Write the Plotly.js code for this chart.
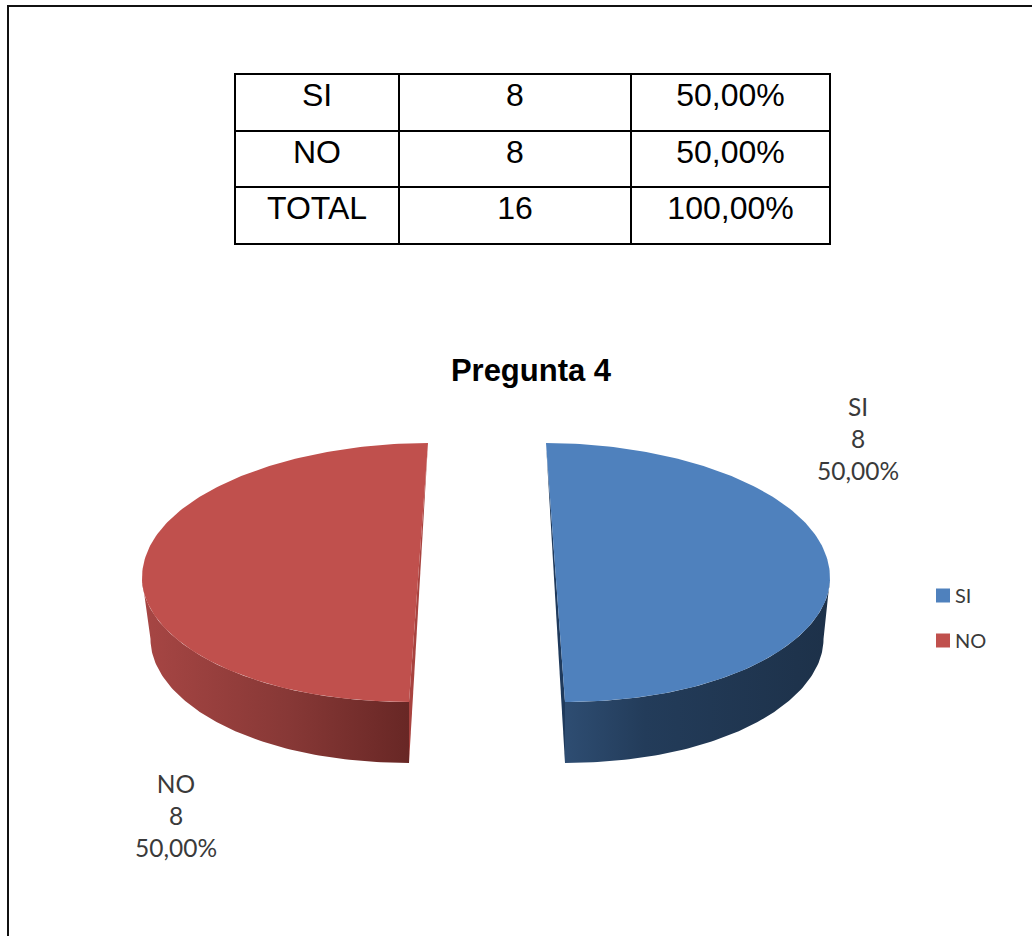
<!DOCTYPE html>
<html>
<head>
<meta charset="utf-8">
<script src="https://cdn.plot.ly/plotly-3.0.1.min.js"></script>
<style>html,body{margin:0;padding:0;background:#fff;overflow:hidden}#chart{width:1032px;height:936px}</style>
</head>
<body>
<div id="chart"></div>
<script>
// ---- data ----
var categories = ['SI', 'NO'];
var counts = [8, 8];
var percents = ['50,00%', '50,00%'];
var totalLabel = 'TOTAL';
var totalCount = 16;
var totalPercent = '100,00%';
var chartTitle = 'Pregunta 4';

// ---- styling ----
var faceColors = ['#4f81bd', '#c0504d'];
var cutColors = ['#1f3a5c', '#a8433f'];
var wallGradients = [
  [[0, '#2e4d72'], [0.3, '#233c5a'], [1, '#1d3149']],
  [[0, '#a74644'], [0.55, '#873836'], [1, '#682725']]
];
var labelAnchors = [[857.5, 438.5], [176, 815]];
var centers = [[555.5, 578], [418.5, 578]];
var skews = [-9.5, 9.5];
var radii = [274.5, 276.5];

function point(c, a, s, d, th) {
  var co = Math.cos(th);
  return [c[0] + a * Math.sin(th) + s * co * co * co,
          c[1] + d - (co > 0 ? 135 : 124) * co];
}
var DEPTH = 61, A2 = 268;
var total = counts.reduce(function (u, v) { return u + v; }, 0);
var traces = [];
var cum = 0;
categories.forEach(function (name, i) {
  // SI runs clockwise from the top, NO continues round to the top again
  var t0 = 2 * Math.PI * cum / total;
  var t1 = 2 * Math.PI * (cum + counts[i]) / total;
  cum += counts[i];
  var c = centers[i], s = skews[i], A = radii[i], N = 90, k, th;
  var bottomTh = Math.PI;
  var sideTh = i === 0 ? Math.PI / 2 : 3 * Math.PI / 2;
  var wx = [], wy = [], fx = [], fy = [], q;
  // outer wall, top arc then bottom arc back
  for (k = 0; k <= N; k++) {
    th = sideTh + (bottomTh - sideTh) * k / N;
    q = point(c, A, s, 0, th); wx.push(q[0]); wy.push(q[1]);
  }
  for (k = N; k >= 0; k--) {
    th = sideTh + (bottomTh - sideTh) * k / N;
    q = point(c, A2, s, DEPTH, th); wx.push(q[0]); wy.push(q[1]);
  }
  traces.push({
    type: 'scatter', mode: 'lines', x: wx, y: wy, fill: 'toself', line: {width: 0},
    fillgradient: {type: 'horizontal', colorscale: wallGradients[i]},
    showlegend: false, hoverinfo: 'skip'
  });
  // cut wall
  var pTop = point(c, A, s, 0, 0);
  var pBot = point(c, A, s, 0, Math.PI);
  var pLow = point(c, A2, s, DEPTH, Math.PI);
  traces.push({
    type: 'scatter', mode: 'lines', x: [pTop[0], pBot[0], pLow[0], pTop[0]],
    y: [pTop[1], pBot[1], pLow[1], pTop[1]], fill: 'toself', fillcolor: cutColors[i],
    line: {width: 0}, showlegend: false, hoverinfo: 'skip'
  });
  // top face
  for (k = 0; k <= N * 2; k++) {
    th = t0 + (t1 - t0) * k / (N * 2);
    q = point(c, A, s, 0, th); fx.push(q[0]); fy.push(q[1]);
  }
  fx.push(fx[0]); fy.push(fy[0]);
  traces.push({
    type: 'scatter', mode: 'lines', x: fx, y: fy, fill: 'toself', fillcolor: faceColors[i],
    line: {width: 0}, showlegend: false, name: name, hoverinfo: 'skip'
  });
});
// legend entries
categories.forEach(function (name, i) {
  traces.push({
    type: 'scatter', mode: 'markers', x: [null], y: [null], name: name, legendgroup: name,
    marker: {symbol: 'square', size: 14, color: faceColors[i]}, hoverinfo: 'skip'
  });
});
// data table
traces.push({
  type: 'table',
  domain: {x: [235 / 1032, 830 / 1032], y: [0.5, 1 - 74 / 936]},
  columnwidth: [164, 232, 199],
  header: {
    values: [categories[0], String(counts[0]), percents[0]],
    height: 56.67, align: 'center', fill: {color: '#fff'},
    line: {color: '#000', width: 2},
    font: {family: 'Liberation Sans, Arial, sans-serif', size: 32, color: '#000'}
  },
  cells: {
    values: [[categories[1], totalLabel], [String(counts[1]), String(totalCount)], [percents[1], totalPercent]],
    height: 56.67, align: 'center', fill: {color: '#fff'},
    line: {color: '#000', width: 2},
    font: {family: 'Liberation Sans, Arial, sans-serif', size: 32, color: '#000'}
  }
});

var annotations = categories.map(function (name, i) {
  return {
    x: labelAnchors[i][0], y: labelAnchors[i][1], xref: 'x', yref: 'y', showarrow: false,
    text: name + '<br>' + counts[i] + '<br>' + percents[i], align: 'center',
    xanchor: 'center', yanchor: 'middle',
    font: {family: 'Lato, sans-serif', size: 24.5, color: '#3a3a3a'}
  };
});

var layout = {
  width: 1032, height: 936,
  margin: {l: 0, r: 0, t: 0, b: 0},
  paper_bgcolor: '#fff', plot_bgcolor: '#fff',
  title: {
    text: chartTitle, x: 531 / 1032, xanchor: 'center', y: 1 - 370 / 936, yanchor: 'middle',
    font: {family: 'Liberation Sans, Arial, sans-serif', size: 31, color: '#000', weight: 'bold'}
  },
  xaxis: {range: [0, 1032], visible: false, fixedrange: true},
  yaxis: {range: [936, 0], visible: false, fixedrange: true},
  legend: {
    x: 923 / 1032, y: 1 - 576 / 936, xanchor: 'left', yanchor: 'top',
    traceorder: 'grouped', tracegroupgap: 16,
    font: {family: 'Lato, sans-serif', size: 20, color: '#3a3a3a'},
    bgcolor: 'rgba(0,0,0,0)'
  },
  showlegend: true,
  annotations: annotations,
  shapes: [{type: 'rect', xref: 'x', yref: 'y', x0: 8, y0: 6, x1: 1060, y1: 960,
            line: {color: '#111', width: 2}, layer: 'above'}]
};
Plotly.newPlot('chart', traces, layout, {displayModeBar: false}).then(function () {
  // legend text sits closer to its swatch in the reference
  document.querySelectorAll('.legendtext').forEach(function (t) {
    t.setAttribute('x', parseFloat(t.getAttribute('x')) - 8);
  });
});
</script>
</body>
</html>
